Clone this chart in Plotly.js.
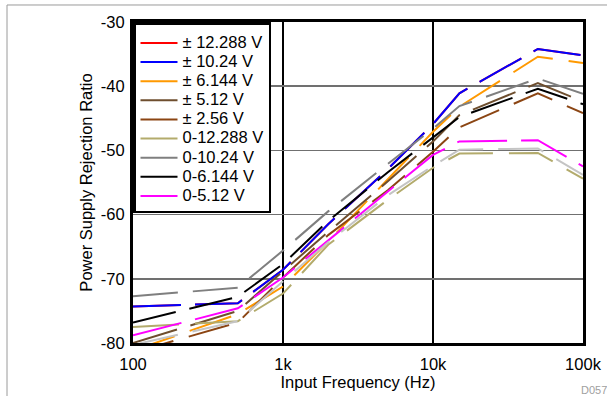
<!DOCTYPE html>
<html>
<head>
<meta charset="utf-8">
<script src="https://cdn.plot.ly/plotly-3.0.1.min.js"></script>
<style>html,body{margin:0;padding:0;background:#fff;}#chart{width:607px;height:396px;}</style>
</head>
<body>
<div id="chart"></div>
<script>
// Frequencies (Hz)
const freq = [100, 500, 1000, 2000, 5000, 10000, 15000, 50000, 100000];

// PSRR series (dB)
const psrr_pm12_288 = [-74.3, -73.8, -68.6, -61.5, -52.9, -45.9, -41.1, -34.2, -35.2];
const psrr_pm10_24  = [-74.3, -73.8, -68.6, -61.5, -52.9, -45.9, -41.1, -34.2, -35.2];
const psrr_pm6_144  = [-81.2, -75.5, -71.2, -64.2, -54.5, -47.1, -43.2, -35.4, -36.4];
const psrr_pm5_12   = [-80.0, -75.0, -68.8, -62.7, -54.8, -48.6, -44.5, -39.5, -42.4];
const psrr_pm2_56   = [-81.5, -76.8, -69.8, -63.2, -56.2, -50.2, -46.4, -41.1, -44.2];
const psrr_0_12_288 = [-77.5, -76.6, -72.3, -64.7, -57.7, -52.7, -50.5, -50.4, -54.4];
const psrr_0_10_24  = [-72.7, -71.4, -65.6, -59.5, -52.1, -46.6, -43.1, -38.8, -41.2];
const psrr_0_6_144  = [-76.8, -72.8, -67.7, -61.0, -53.4, -47.9, -44.8, -40.4, -42.8];
const psrr_0_5_12   = [-78.8, -74.6, -69.8, -64.0, -56.4, -50.7, -48.6, -48.4, -52.5];
const psrr_extra    = [-80.3, -76.6, -70.4, -64.3, -57.0, -52.4, -49.9, -49.7, -53.8];

const names = ['± 12.288 V', '± 10.24 V', '± 6.144 V', '± 5.12 V', '± 2.56 V',
               '0-12.288 V', '0-10.24 V', '0-6.144 V', '0-5.12 V'];
const xTickVals = [100, 1000, 10000, 100000];
const xTickText = ['100', '1k', '10k', '100k'];
const yTickVals = [-80, -70, -60, -50, -40, -30];
const yTickText = ['-80', '-70', '-60', '-50', '-40', '-30'];

const series = [psrr_pm12_288, psrr_pm10_24, psrr_pm6_144, psrr_pm5_12, psrr_pm2_56,
                psrr_0_12_288, psrr_0_10_24, psrr_0_6_144, psrr_0_5_12];
const colors = ['#ff0000', '#0000ff', '#ff9900', '#6e4e2e', '#8b4513',
                '#b3ab6c', '#7f7f7f', '#000000', '#ff00ff'];
const dashes = ['48px,14px', '48px,14px', '44px,16px', '46px,14px', '42px,16px',
                '46px,16px', '45px,15px', '44px,14px', '50px,14px'];

const font = 'Arial, "Liberation Sans", sans-serif';
const FS = 16.5;

const traces = series.map((s, i) => ({
  x: freq, y: s, type: 'scatter', mode: 'lines',
  name: '<span style="font-size:' + FS + 'px">' + names[i] + '</span>',
  line: {color: colors[i], width: 2, dash: dashes[i]}
}));
traces.push({
  x: freq, y: psrr_extra, name: '', showlegend: false, type: 'scatter', mode: 'lines',
  line: {color: '#c4c4c4', width: 2, dash: '46px,15px'}
});

const layout = {
  width: 607, height: 396,
  margin: {l: 133, r: 24, t: 22, b: 53},
  paper_bgcolor: '#fff', plot_bgcolor: '#fff',
  font: {family: font, size: FS, color: '#000'},
  showlegend: true,
  legend: {
    x: 0, y: 1, xanchor: 'left', yanchor: 'top',
    bgcolor: '#fff', bordercolor: '#000', borderwidth: 2.5,
    font: {family: font, size: 12.4, color: '#000'},
    title: {text: '\u00a0', font: {family: font, size: 3}},
    itemwidth: 37, tracegroupgap: 0
  },
  xaxis: {
    type: 'log', range: [2, 5],
    tickvals: xTickVals, ticktext: xTickText,
    showgrid: true, gridcolor: '#000', gridwidth: 2.5,
    showline: true, linecolor: '#000', linewidth: 3, mirror: true,
    ticks: 'outside', ticklen: 4, tickcolor: 'rgba(0,0,0,0)', zeroline: false,
    tickfont: {family: font, size: FS},
    title: {text: 'Input Frequency (Hz)', font: {family: font, size: FS}, standoff: 1}
  },
  yaxis: {
    range: [-80, -30], tickvals: yTickVals, ticktext: yTickText,
    showgrid: true, gridcolor: '#707070', gridwidth: 1.5,
    showline: true, linecolor: '#000', linewidth: 3, mirror: true,
    ticks: 'outside', ticklen: 2, tickcolor: 'rgba(0,0,0,0)', zeroline: false,
    tickfont: {family: font, size: FS},
    title: {text: 'Power Supply Rejection Ratio', font: {family: font, size: FS}, standoff: 5}
  },
  shapes: [{
    type: 'rect', xref: 'paper', yref: 'paper',
    x0: -0.28, x1: 1.2, y0: -0.3, y1: 1.053,
    line: {color: '#9a9a9a', width: 1}, layer: 'below'
  }],
  annotations: [{
    text: 'D057', xref: 'paper', yref: 'paper', x: 0.991, y: -0.122,
    xanchor: 'left', yanchor: 'top', showarrow: false,
    font: {family: font, size: 11, color: '#a0a0a0'}
  }]
};

Plotly.newPlot('chart', traces, layout, {displayModeBar: false, staticPlot: true});
</script>
</body>
</html>
